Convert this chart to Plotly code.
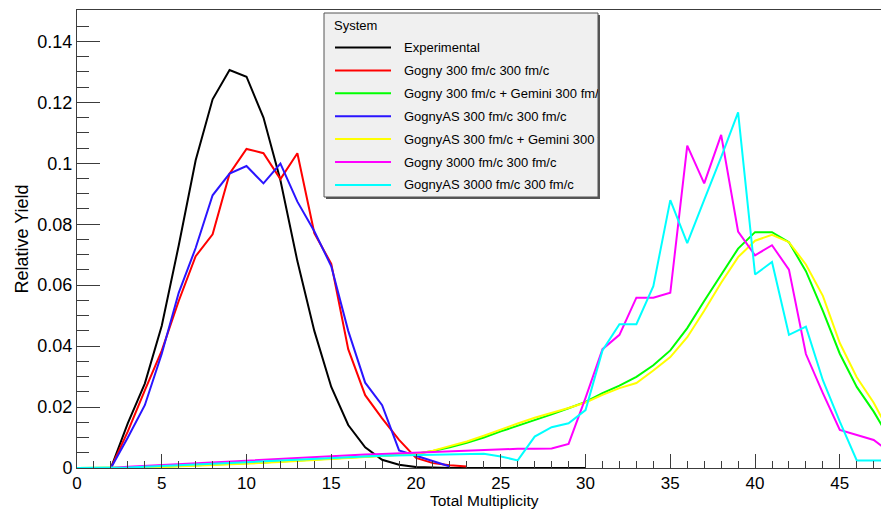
import plotly.graph_objects as go

# ---------------- data ----------------
x_experimental = list(range(2, 31))
experimental = [0, 0.0147, 0.0277, 0.0467, 0.073, 0.101, 0.121, 0.1306, 0.1284, 0.115,
                0.0944, 0.0679, 0.045, 0.0266, 0.0141, 0.0068, 0.0027, 0.0011, 0.0003, 0.0001,
                0, 0, 0, 0, 0, 0, 0, 0, 0]

x_gogny_300 = list(range(2, 24))
gogny_300 = [0, 0.012, 0.0255, 0.0385, 0.0548, 0.0695, 0.0767, 0.0966, 0.1047, 0.1033,
             0.0948, 0.1033, 0.0771, 0.067, 0.039, 0.0239, 0.0163, 0.0092, 0.0033, 0.0016,
             0.0009, 0.0005]

x_gognyas_300 = list(range(2, 23))
gognyas_300 = [0, 0.010, 0.0206, 0.0375, 0.0575, 0.0722, 0.0895, 0.0966, 0.0991, 0.0934,
               0.0999, 0.0874, 0.0777, 0.0662, 0.045, 0.028, 0.0206, 0.0058, 0.004, 0.0022,
               0.0005]

x_sim = list(range(0, 49))
gogny_300_gemini = [0, 0, 0, 0.0001, 0.0002, 0.0004, 0.0006, 0.0008, 0.001, 0.0012,
                    0.0015, 0.0018, 0.0021, 0.0024, 0.0027, 0.003, 0.0033, 0.0036, 0.0039, 0.0042,
                    0.0047, 0.0056, 0.0068, 0.0083, 0.0100, 0.0120, 0.0138, 0.0158, 0.0176, 0.0196,
                    0.0217, 0.0246, 0.027, 0.0299, 0.0337, 0.0386, 0.0459, 0.0548, 0.0635, 0.072,
                    0.0774, 0.0774, 0.0741, 0.0646, 0.0516, 0.0375, 0.0266, 0.0185, 0.009]
gognyas_300_gemini = [0, 0, 0, 0.0001, 0.0002, 0.0003, 0.0005, 0.0007, 0.0009, 0.0011,
                      0.0014, 0.0017, 0.002, 0.0023, 0.0026, 0.0029, 0.0032, 0.0035, 0.0038, 0.0041,
                      0.0046, 0.0057, 0.0071, 0.0087, 0.0106, 0.0127, 0.0146, 0.0165, 0.018, 0.0197,
                      0.0215, 0.024, 0.0262, 0.0279, 0.032, 0.0364, 0.0429, 0.0516, 0.0608, 0.0692,
                      0.0746, 0.0765, 0.0741, 0.0668, 0.0565, 0.041, 0.0298, 0.0214, 0.011]
gogny_3000 = [0, 0, 0, 0.0004, 0.0007, 0.001, 0.0012, 0.0015, 0.0018, 0.0021,
              0.0025, 0.0028, 0.0031, 0.0034, 0.0037, 0.004, 0.0042, 0.0044, 0.0046, 0.0048,
              0.005, 0.0053, 0.0055, 0.0058, 0.006, 0.0062, 0.0063, 0.0063, 0.0064, 0.0079,
              0.023, 0.039, 0.0437, 0.0559, 0.0559, 0.0575, 0.1058, 0.0934, 0.1093, 0.0776,
              0.0698, 0.0731, 0.0651, 0.0374, 0.0246, 0.0125, 0.0109, 0.0092, 0.005]
gognyas_3000 = [0, 0, 0, 0.0002, 0.0004, 0.0006, 0.0008, 0.001, 0.0013, 0.0016,
                0.0019, 0.0022, 0.0025, 0.0028, 0.0031, 0.0034, 0.0036, 0.0038, 0.004, 0.0041,
                0.0042, 0.0043, 0.0044, 0.0045, 0.0047, 0.0038, 0.0025, 0.0103, 0.0134, 0.0147,
                0.019, 0.0386, 0.0472, 0.0472, 0.0597, 0.0879, 0.0738, 0.088, 0.102, 0.1167,
                0.0635, 0.0676, 0.0437, 0.0464, 0.0288, 0.0152, 0.0025, 0.0025, 0.0025]

series_names = ["Experimental",
                "Gogny 300 fm/c 300 fm/c",
                "Gogny 300 fm/c + Gemini 300 fm/c",
                "GognyAS 300 fm/c 300 fm/c",
                "GognyAS 300 fm/c + Gemini 300 fm/c",
                "Gogny 3000 fm/c 300 fm/c",
                "GognyAS 3000 fm/c 300 fm/c"]
legend_title = "System"

x_tick_vals = [0, 5, 10, 15, 20, 25, 30, 35, 40, 45]
y_tick_vals = [0, 0.02, 0.04, 0.06, 0.08, 0.1, 0.12, 0.14]
y_tick_text = ["0", "0.02", "0.04", "0.06", "0.08", "0.1", "0.12", "0.14"]
x_title = "Total Multiplicity"
y_title = "Relative Yield"

# ---------------- styling ----------------
colors = ["#000000", "#ff0000", "#00ff00", "#2a14ff", "#ffff00", "#ff00ff", "#00ffff"]
FONT = "Liberation Sans, Arial, Helvetica, sans-serif"
W, H = 881, 510
ML, MR, MT, MB = 77, 0, 10, 42
PW, PH = W - ML - MR, H - MT - MB

xs = [x_experimental, x_gogny_300, x_sim, x_gognyas_300, x_sim, x_sim, x_sim]
ys = [experimental, gogny_300, gogny_300_gemini, gognyas_300, gognyas_300_gemini,
      gogny_3000, gognyas_3000]

fig = go.Figure()
for xv, yv, name, col in zip(xs, ys, series_names, colors):
    fig.add_trace(go.Scatter(x=xv, y=yv, mode="lines", name=name,
                             line=dict(color=col, width=2), showlegend=False))

axcol = "#3c3c3c"
fig.update_layout(
    width=W, height=H,
    margin=dict(l=ML, r=MR, t=MT, b=MB, pad=0),
    paper_bgcolor="white", plot_bgcolor="white",
    font=dict(family=FONT, size=18, color="black"),
    xaxis=dict(range=[0, 47.43], tickvals=x_tick_vals, ticks="inside", ticklen=14,
               tickcolor=axcol, tickwidth=1, showline=True, linecolor=axcol, linewidth=1,
               mirror=True, showgrid=False, zeroline=False,
               minor=dict(dtick=1, tick0=0, ticks="inside", ticklen=7, tickcolor=axcol,
                          showgrid=False),
               tickfont=dict(size=17)),
    yaxis=dict(range=[0, 0.1503], tickvals=y_tick_vals, ticktext=y_tick_text,
               ticks="inside", ticklen=23, tickcolor=axcol, tickwidth=1,
               showline=True, linecolor=axcol, linewidth=1, showgrid=False, zeroline=False,
               minor=dict(dtick=0.005, tick0=0, ticks="inside", ticklen=12, tickcolor=axcol,
                          showgrid=False),
               tickfont=dict(size=18),
               title=dict(text=y_title, font=dict(size=18), standoff=4)),
)


def px_x(p):
    return (p - ML) / PW


def px_y(p):
    return (H - MB - p) / PH


# x-axis title (ROOT centres it on the full frame, which runs past the cropped right edge)
fig.add_annotation(xref="paper", yref="paper", x=px_x(484), y=px_y(510),
                   xanchor="center", yanchor="bottom", showarrow=False, borderpad=0,
                   text=x_title, font=dict(family=FONT, size=15.5, color="black"))

# legend box (drawn as a box with a shadow, ROOT TLegend style)
bx0, bx1, by0, by1 = 324, 598, 13, 197
fig.add_shape(type="rect", xref="paper", yref="paper",
              x0=px_x(bx0 + 2), x1=px_x(bx1 + 2), y0=px_y(by1 + 2), y1=px_y(by0 + 2),
              fillcolor="#555555", line=dict(width=0), layer="above")
fig.add_shape(type="rect", xref="paper", yref="paper",
              x0=px_x(bx0), x1=px_x(bx1), y0=px_y(by1), y1=px_y(by0),
              fillcolor="#f0f0f0", line=dict(color="#555555", width=1), layer="above")
fig.add_annotation(xref="paper", yref="paper", x=px_x(332), y=px_y(26),
                   xanchor="left", yanchor="middle", showarrow=False,
                   text=legend_title, font=dict(family=FONT, size=13, color="black"))
row0, row_step = 47.5, 22.9
for i, (name, col) in enumerate(zip(series_names, colors)):
    yc = row0 + i * row_step
    fig.add_shape(type="line", xref="paper", yref="paper",
                  x0=px_x(335), x1=px_x(391), y0=px_y(yc), y1=px_y(yc),
                  line=dict(color=col, width=2), layer="above")
    fig.add_annotation(xref="paper", yref="paper", x=px_x(403), y=px_y(yc),
                       xanchor="left", yanchor="middle", showarrow=False, align="left",
                       width=bx1 - 403 - 1, borderpad=0,
                       text=name, font=dict(family=FONT, size=13, color="black"))

fig.write_html("out.html")
